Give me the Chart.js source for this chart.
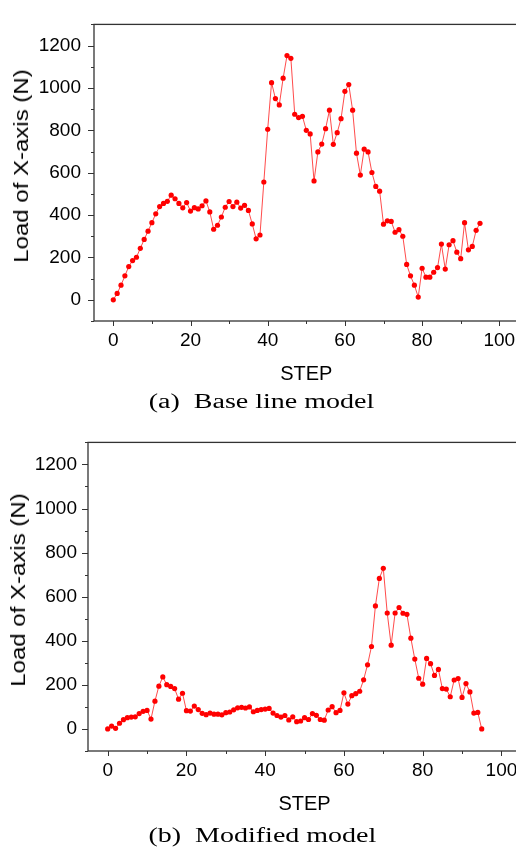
<!DOCTYPE html>
<html>
<head>
<meta charset="utf-8">
<script src="https://cdn.jsdelivr.net/npm/chart.js@4.4.1/dist/chart.umd.min.js"></script>
<style>
  html, body { margin: 0; padding: 0; background: #fff; overflow: hidden; width: 516px; height: 851px; }
  .panel { position: absolute; left: 0; }
  canvas { display: block; }
  .caption { position: absolute; left: 0; width: 524px; text-align: center; line-height: 24px;
             font-family: "Liberation Serif", "Times New Roman", serif; font-size: 20px; color: #000; white-space: pre; }
  .caption span { display: inline-block; transform: scaleX(1.4); }
  .ytitle { position: absolute; white-space: nowrap; line-height: 24px; color: #000;
            font-family: "Liberation Sans", Arial, sans-serif; font-size: 20px;
            transform: translate(-50%, -50%) rotate(-90deg) scaleX(1.2); }
</style>
</head>
<body>
<div class="panel" style="top:0px"><canvas id="baseChart" width="540" height="390"></canvas></div>
<div class="ytitle" id="baseTitle" style="left:21px; top:166px"></div>
<div class="caption" style="top:389px"><span>(a)  Base line model</span></div>
<div class="panel" style="top:420px"><canvas id="modChart" width="540" height="400"></canvas></div>
<div class="ytitle" id="modTitle" style="left:18px; top:590px"></div>
<div class="caption" style="top:823px"><span>(b)  Modified model</span></div>

<script>
// load on the X axis per step, base line model
const baseLoad = [
    0, 30, 69, 113, 157, 185, 201, 243, 285, 324,
    364, 406, 440, 455, 465, 494, 477, 455, 434, 459,
    419, 435, 429, 444, 467, 415, 333, 352, 391, 437,
    464, 440, 461, 433, 446, 422, 358, 288, 306, 556,
    805, 1025, 950, 920, 1046, 1153, 1140, 876, 860, 866,
    800, 783, 561, 698, 735, 808, 895, 734, 789, 855,
    984, 1016, 895, 692, 589, 711, 698, 601, 535, 513,
    357, 373, 370, 319, 331, 300, 167, 113, 69, 13,
    149, 107, 107, 130, 152, 263, 145, 260, 279, 225,
    194, 364, 236, 252, 328, 361
];

// load on the X axis per step, modified model
const modLoad = [
    0, 13, 3, 26, 42, 51, 54, 55, 70, 80,
    84, 45, 126, 194, 236, 201, 193, 183, 135, 162,
    83, 81, 104, 88, 71, 65, 72, 67, 67, 64,
    74, 77, 87, 96, 98, 95, 100, 78, 84, 88,
    90, 93, 72, 61, 54, 61, 41, 55, 33, 36,
    51, 43, 70, 62, 43, 40, 86, 101, 74, 84,
    164, 113, 151, 160, 171, 223, 291, 374, 558, 683,
    729, 526, 380, 526, 551, 525, 520, 412, 317, 230,
    203, 320, 296, 243, 270, 183, 181, 146, 222, 229,
    143, 206, 168, 72, 75, 0
];

const xTicks = [0, 20, 40, 60, 80, 100];
const yTicks = [0, 200, 400, 600, 800, 1000, 1200];
const xTitle = 'STEP';
const yTitle = 'Load of X-axis (N)';

const sans = '"Liberation Sans", Arial, sans-serif';

document.getElementById('baseTitle').textContent = yTitle;
document.getElementById('modTitle').textContent = yTitle;

// box around the plot with outward major/minor tick marks
const frameTicks = {
    id: 'frameTicks',
    afterDraw(chart) {
        const { ctx, chartArea: a, scales: { x, y } } = chart;
        ctx.save();
        ctx.strokeStyle = '#333';
        ctx.lineWidth = 1.3;
        ctx.strokeRect(a.left, a.top, a.right - a.left, a.bottom - a.top);
        ctx.lineWidth = 1;
        ctx.beginPath();
        xTicks.forEach((v, i) => {
            let px = Math.round(x.getPixelForValue(v)) + 0.5;
            ctx.moveTo(px, a.bottom); ctx.lineTo(px, a.bottom + 5);
            if (i < xTicks.length - 1) {
                px = Math.round(x.getPixelForValue((v + xTicks[i + 1]) / 2)) + 0.5;
                ctx.moveTo(px, a.bottom); ctx.lineTo(px, a.bottom + 3);
            }
        });
        const yAll = [yTicks[0] - 100].concat(yTicks, [yTicks[yTicks.length - 1] + 100]);
        yAll.forEach((v, i) => {
            let py = Math.round(y.getPixelForValue(v)) + 0.5;
            const len = yTicks.includes(v) ? 6 : 3;
            ctx.moveTo(a.left - len, py); ctx.lineTo(a.left, py);
            if (yTicks.includes(v) && v < yTicks[yTicks.length - 1]) {
                py = Math.round(y.getPixelForValue(v + 100)) + 0.5;
                ctx.moveTo(a.left - 3, py); ctx.lineTo(a.left, py);
            }
        });
        ctx.stroke();
        ctx.restore();
    }
};

function makeChart(id, values, g) {
    const points = values.map((v, i) => ({ x: i, y: v }));
    return new Chart(document.getElementById(id), {
        type: 'line',
        data: {
            datasets: [{
                data: points,
                borderColor: 'rgba(255, 30, 30, 0.8)',
                borderWidth: 1,
                pointRadius: 2.6,
                pointBackgroundColor: '#ff0000',
                pointBorderWidth: 0,
                tension: 0
            }]
        },
        options: {
            responsive: false,
            animation: false,
            layout: { padding: { top: g.top, right: g.right, left: 0, bottom: 0 } },
            plugins: { legend: { display: false }, tooltip: { enabled: false } },
            scales: {
                x: {
                    type: 'linear', min: -5, max: 105,
                    afterBuildTicks: s => { s.ticks = xTicks.map(v => ({ value: v })); },
                    afterFit: s => { s.height = g.xHeight; },
                    grid: { display: false, drawTicks: false },
                    border: { display: false },
                    ticks: { font: { family: sans, size: 19 }, color: '#000', padding: 8, maxRotation: 0,
                             autoSkip: false, callback: v => String(v) },
                    title: { display: true, text: xTitle, color: '#000', font: { family: sans, size: 20 },
                             padding: { top: 0, bottom: 4 } }
                },
                y: {
                    min: -100, max: 1300,
                    afterBuildTicks: s => { s.ticks = yTicks.map(v => ({ value: v })); },
                    afterFit: s => { s.width = g.yWidth; },
                    grid: { display: false, drawTicks: false },
                    border: { display: false },
                    ticks: { font: { family: sans, size: 19 }, color: '#000', padding: g.yPad,
                             autoSkip: false, callback: v => String(v) },
                    title: { display: false }
                }
            }
        },
        plugins: [frameTicks]
    });
}

makeChart('baseChart', baseLoad, { top: 8, right: 21.4, xHeight: 69, yWidth: 94, yPad: 13 });
makeChart('modChart', modLoad, { top: 12, right: 18.9, xHeight: 69, yWidth: 88, yPad: 11 });
</script>
</body>
</html>
